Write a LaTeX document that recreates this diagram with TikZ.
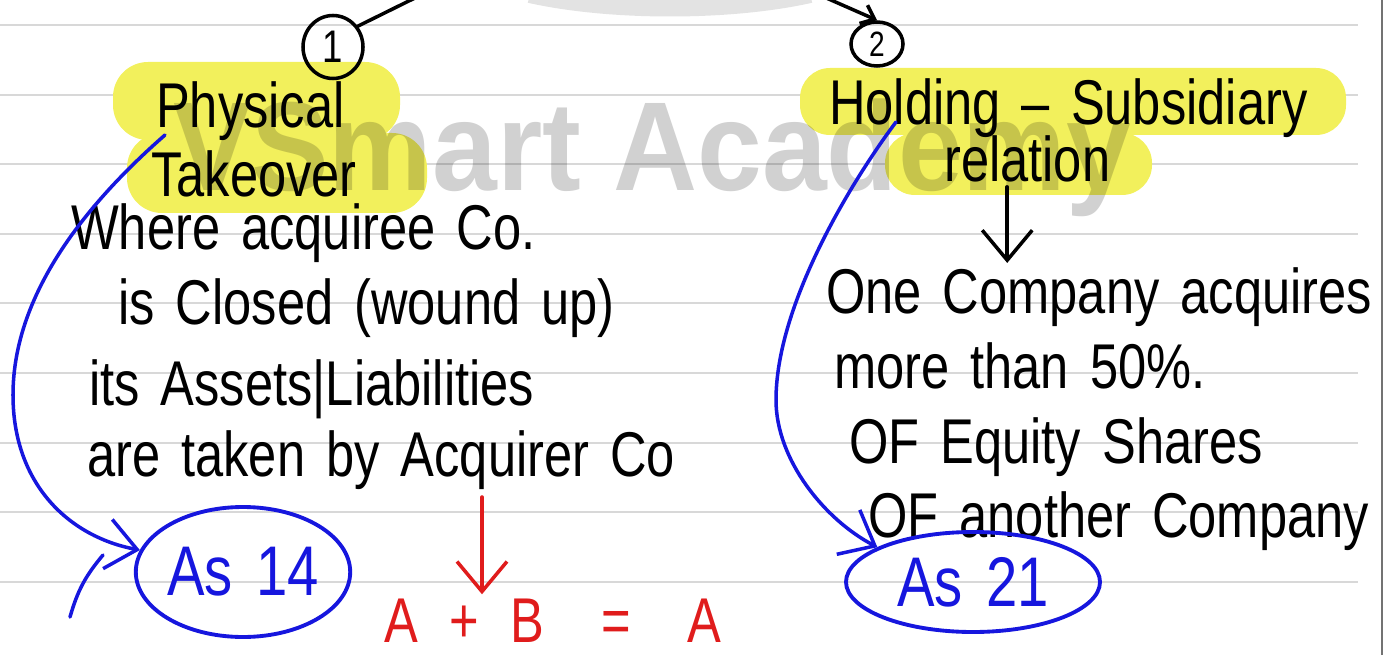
\documentclass[tikz,border=0pt]{standalone}
\usepackage{fontspec}
\setmainfont{Liberation Sans}[FakeStretch=0.8,WordSpace=1.5]
\newfontfamily\markfont{Liberation Sans}[FakeStretch=0.92]
\usetikzlibrary{arrows.meta,shapes.geometric,calc}
\definecolor{inkblue}{RGB}{22,22,222}
\definecolor{inkred}{RGB}{224,28,28}
\definecolor{hilite}{RGB}{242,240,92}
\definecolor{ruleline}{RGB}{216,216,216}
\tikzset{
  hand/.style={font=\fontsize{18}{20}\selectfont, anchor=base west, inner sep=1pt},
  badge/.style={draw, ellipse, inner sep=0pt, line width=1pt, font=\fontsize{13}{15}\selectfont},
  asbox/.style={draw=inkblue, text=inkblue, ellipse, inner sep=0pt, line width=1.1pt, font=\fontsize{20}{22}\selectfont},
  pen/.style={line width=1pt, line cap=round}
}
\begin{document}
\begin{tikzpicture}[>={Straight Barb[length=3mm,width=5mm]}]
\useasboundingbox (0,0) rectangle (13.89,6.55);
\clip (0,0) rectangle (13.89,6.55);
\foreach \k in {0,...,8} \draw[ruleline, line width=0.6pt] (0,6.30-0.696*\k) -- (13.58,6.30-0.696*\k);
\draw[black!55, line width=0.6pt] (13.82,0) -- (13.82,6.55);
\fill[hilite, rounded corners=3.5mm] (1.13,5.15) rectangle (4.00,5.93);
\fill[hilite, rounded corners=3.5mm] (1.27,4.42) rectangle (4.27,5.22);
\fill[hilite, rounded corners=3mm] (8.00,5.20) rectangle (13.46,5.87);
\fill[hilite, rounded corners=3mm] (8.85,4.60) rectangle (11.52,5.22);
\draw[black, opacity=0.11, line width=2mm] (5.3,6.62) .. controls (6.1,6.44) and (7.3,6.44) .. (8.1,6.62);
\node[anchor=base west, inner sep=0pt, font={\markfont\bfseries\fontsize{36}{38}\selectfont}, opacity=0.18] (mark) at (1.73,4.65) {VSmart Academy};

\node[badge, minimum width=6mm, minimum height=6.3mm] (one) at (3.33,6.08) {1};
\node[badge, minimum width=5.2mm, minimum height=4.4mm, font=\fontsize{10}{12}\selectfont] (two) at (8.77,6.11) {2};
\coordinate (topL) at (4.25,6.62);
\coordinate (topR) at (8.15,6.62);
\draw[pen] (one.40) -- (topL);
\draw[pen, -{Straight Barb[length=1.2mm,width=2mm]}] (topR) -- (two.north);

\node[hand] (phys) at (1.52,5.27) {Physical};
\node[hand] (take) at (1.47,4.58) {Takeover};
\node[hand] (hold) at (8.25,5.30) {Holding -- Subsidiary};
\node[hand] (rel) at (9.40,4.73) {relation};
\node[hand] (where) at (0.67,4.05) {Where acquiree Co.};
\node[hand] (closed) at (1.14,3.30) {is Closed (wound up)};
\node[hand] (assets) at (0.85,2.50) {its Assets|Liabilities};
\node[hand] (taken) at (0.83,1.79) {are taken by Acquirer Co};
\node[hand] (onecomp) at (8.22,3.42) {One Company acquires};
\node[hand] (more) at (8.30,2.67) {more than 50\%.};
\node[hand] (equity) at (8.45,1.92) {OF Equity Shares};
\node[hand] (another) at (8.64,1.18) {OF another Company};
\node[hand, text=inkred] (eqn) at (3.80,0.13) {A\hspace{.5em}+\hspace{.5em}B\hspace{.9em}=\hspace{.9em}A};

\node[asbox, minimum width=20.7mm, minimum height=13mm] (as14) at (2.43,0.83) {As 14};
\node[asbox, minimum width=25.4mm, minimum height=10mm] (as21) at (9.73,0.73) {As 21};

\draw[pen, ->] ([xshift=-2mm]rel.south) -- ([xshift=-2mm]rel.south |- onecomp.north);
\coordinate (redtop) at (4.82,1.58);
\draw[pen, inkred, ->] (redtop) -- (redtop |- eqn.north);

\draw[pen, inkblue, ->] ($(phys.base west)+(0.13,-0.07)$) .. controls (0.85,4.5) and (0.13,3.6) .. (0.13,2.6) .. controls (0.13,1.7) and (0.7,1.18) .. (as14.168);
\coordinate (tailA) at (0.70,0.38);
\coordinate (tailB) at (1.03,1.00);
\draw[pen, inkblue] (tailA) to[bend left=12] (tailB);
\draw[pen, inkblue, ->] ($(hold.base west)+(0.71,0.03)$) .. controls (8.51,4.73) and (7.76,3.5) .. (7.76,2.55) .. controls (7.76,1.95) and (8.25,1.35) .. (as21.160);
\end{tikzpicture}
\end{document}
